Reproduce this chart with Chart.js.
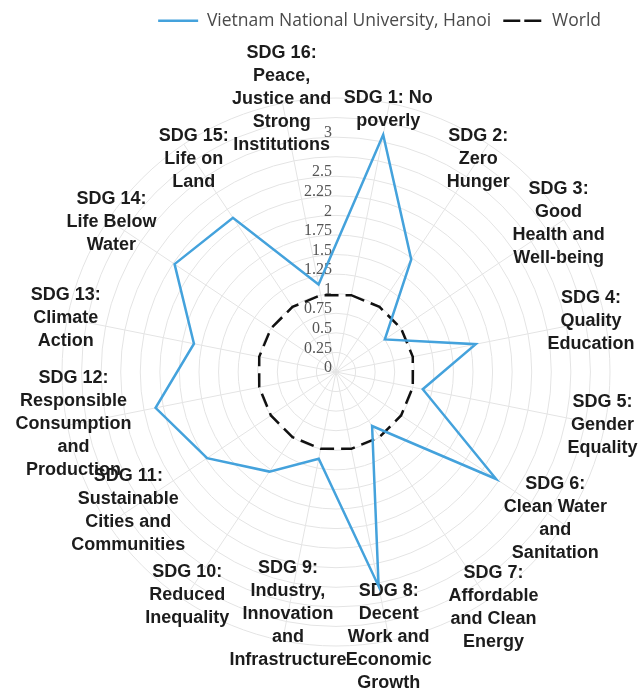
<!DOCTYPE html>
<html>
<head>
<meta charset="utf-8">
<title>SDG radar</title>
<script src="https://cdn.jsdelivr.net/npm/chart.js@4.4.0/dist/chart.umd.min.js"></script>
<style>
  html, body { margin: 0; padding: 0; background: #fff; }
  #wrap { width: 644px; height: 694px; position: relative; }
</style>
</head>
<body>
<div id="wrap"><canvas id="sdgRadar"></canvas></div>
<script>
const sdgLabels = [
  ['SDG 1: No', 'poverly'],
  ['SDG 2:', 'Zero', 'Hunger'],
  ['SDG 3:', 'Good', 'Health and', 'Well-being'],
  ['SDG 4:', 'Quality', 'Education'],
  ['SDG 5:', 'Gender', 'Equality'],
  ['SDG 6:', 'Clean Water', 'and', 'Sanitation'],
  ['SDG 7:', 'Affordable', 'and Clean', 'Energy'],
  ['SDG 8:', 'Decent', 'Work and', 'Economic', 'Growth'],
  ['SDG 9:', 'Industry,', 'Innovation', 'and', 'Infrastructure'],
  ['SDG 10:', 'Reduced', 'Inequality'],
  ['SDG 11:', 'Sustainable', 'Cities and', 'Communities'],
  ['SDG 12:', 'Responsible', 'Consumption', 'and', 'Production'],
  ['SDG 13:', 'Climate', 'Action'],
  ['SDG 14:', 'Life Below', 'Water'],
  ['SDG 15:', 'Life on', 'Land'],
  ['SDG 16:', 'Peace,', 'Justice and', 'Strong', 'Institutions']
]

const vnuScores = [3.09, 1.73, 0.75, 1.82, 1.13, 2.46, 0.83, 2.79, 1.13, 1.53, 1.98, 2.35, 1.85, 2.48, 2.37, 1.14]
const worldScores = [1, 1, 1, 1, 1, 1, 1, 1, 1, 1, 1, 1, 1, 1, 1, 1]

const scaleMax = 3.5
const tickStep = 0.25
const hiddenTicks = [2.75, 3.25, 3.5]

// where each SDG name sits, in scale units along its spoke
const labelDist = [3.42, 3.27, 3.42, 3.32, 3.47, 3.37, 3.62, 3.45, 3.15, 3.42, 3.19, 3.42, 3.52, 3.45, 3.27, 3.56]

// make room under the legend so the radar sits lower
const legendSpacer = {
  id: 'legendSpacer',
  beforeInit(chart) {
    if (!chart.legend) return
    const fit = chart.legend.fit
    chart.legend.fit = function () {
      fit.bind(chart.legend)()
      this.height += 58
    }
  }
}

// upright tick numbers and centered SDG names
const radarText = {
  id: 'radarText',
  beforeDatasetsDraw(chart) {
    const r = chart.scales.r
    const ctx = chart.ctx
    ctx.save()

    ctx.font = '16px "Liberation Serif", serif'
    ctx.fillStyle = '#555'
    ctx.textAlign = 'right'
    ctx.textBaseline = 'middle'
    r.ticks.forEach(t => {
      if (t.label === '') return
      const d = r.getDistanceFromCenterForValue(t.value)
      ctx.fillText(String(t.label), r.xCenter - 4, r.yCenter - d - 4)
    })

    ctx.font = 'bold 18px "Liberation Sans", Arial, sans-serif'
    ctx.fillStyle = '#1c1c1c'
    ctx.textAlign = 'center'
    const lh = 23
    sdgLabels.forEach((lines, i) => {
      const p = r.getPointPosition(i, r.getDistanceFromCenterForValue(labelDist[i]))
      const y0 = p.y - (lines.length - 1) * lh / 2
      lines.forEach((s, j) => ctx.fillText(s, p.x, y0 + j * lh))
    })

    ctx.restore()
  }
}

new Chart(document.getElementById('sdgRadar'), {
  type: 'radar',
  data: {
    labels: sdgLabels,
    datasets: [
      {
        label: 'Vietnam National University, Hanoi',
        data: vnuScores,
        borderColor: '#44a2dc',
        backgroundColor: '#44a2dc',
        borderWidth: 2.5,
        pointRadius: 0,
        fill: false
      },
      {
        label: 'World',
        data: worldScores,
        borderColor: '#111',
        backgroundColor: '#111',
        borderWidth: 2.5,
        borderDash: [14, 7],
        pointRadius: 0,
        fill: false
      }
    ]
  },
  options: {
    responsive: true,
    maintainAspectRatio: false,
    animation: false,
    layout: {
      padding: { left: 60, right: 31, top: 0, bottom: 47 }
    },
    plugins: {
      tooltip: { enabled: false },
      legend: {
        position: 'top',
        align: 'end',
        labels: {
          boxWidth: 40,
          boxHeight: 0,
          padding: 12,
          color: '#4a4a4a',
          font: { family: '"Open Sans"', size: 17.5 }
        }
      }
    },
    scales: {
      r: {
        min: 0,
        max: scaleMax,
        startAngle: 11.25,
        grid: { circular: true, color: '#e4e4e4', lineWidth: 1 },
        angleLines: { color: '#e4e4e4', lineWidth: 1 },
        pointLabels: { display: false },
        ticks: {
          display: false,
          stepSize: tickStep,
          callback: v => hiddenTicks.includes(v) ? '' : v
        }
      }
    }
  },
  plugins: [legendSpacer, radarText]
})
</script>
</body>
</html>
